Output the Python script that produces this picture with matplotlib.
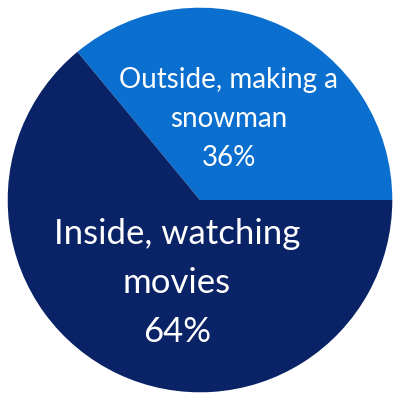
import matplotlib.pyplot as plt

labels = ['Outside, making a\nsnowman\n36%', 'Inside, watching\nmovies\n64%']
shares = [36, 64]
colors = ['#0b6fcf', '#0a2266']

plt.rcParams['font.family'] = ['Lato', 'DejaVu Sans']

fig = plt.figure(figsize=(4, 4), dpi=100)
ax = fig.add_axes([0, 0, 1, 1])
wedges, _ = ax.pie(shares, colors=colors, startangle=0, counterclock=True,
                   radius=1.0, wedgeprops=dict(linewidth=0))
ax.set_xlim(-1.04, 1.04)
ax.set_ylim(-1.04, 1.04)
ax.set_aspect('equal')
ax.axis('off')

# label positions in data coords (radius ~1 = 193 px)
ax.text(0.15, 0.42, labels[0], ha='center', va='center', color='white',
        fontsize=20, linespacing=1.62)
ax.text(-0.12, -0.43, labels[1], ha='center', va='center', color='white',
        fontsize=25, linespacing=1.65)

plt.savefig('out.png', dpi=100)
